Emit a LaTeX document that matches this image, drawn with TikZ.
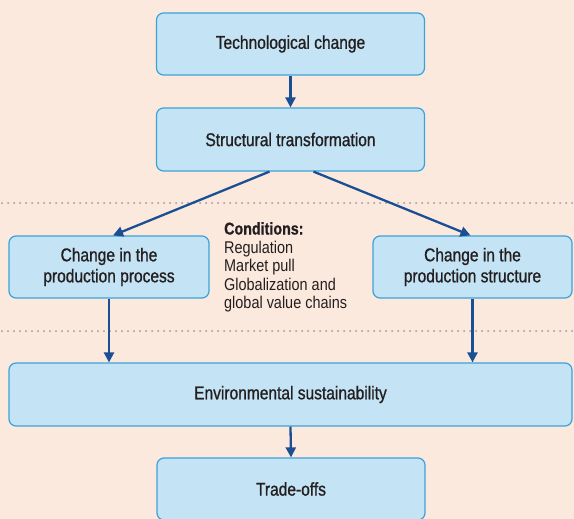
\documentclass[tikz,border=0pt]{standalone}
\usepackage{fontspec}
\setmainfont{Liberation Sans}[FakeStretch=0.85]
\newfontfamily\medfont{Liberation Sans}[FakeStretch=0.84, FakeBold=0.9]
\usetikzlibrary{arrows.meta,calc}
\definecolor{bgpeach}{HTML}{FCE9DD}
\definecolor{boxfill}{HTML}{C4E3F4}
\definecolor{boxline}{HTML}{3AA2DC}
\definecolor{arrowblue}{HTML}{1A4F93}
\definecolor{txt}{HTML}{231F20}
\definecolor{dotgray}{HTML}{9A9A9A}
\begin{document}
\begin{tikzpicture}[x=1pt,y=-1pt,
  box/.style={draw=boxline, fill=boxfill, line width=1.2pt, rounded corners=7pt,
    align=center, text=txt, font=\medfont\fontsize{18.5}{21}\selectfont, inner sep=0pt},
  arr/.style={draw=arrowblue, line width=2.3pt, -{Triangle[length=10pt,width=10pt]}},
  sep/.style={draw=dotgray, line width=2pt, line cap=round, dash pattern=on 0pt off 6pt}]
\useasboundingbox (0,0) rectangle (574,519);
\fill[bgpeach] (0,0) rectangle (574,519);
% separators
\coordinate (s1a) at (2,203); \coordinate (s1b) at (574,203);
\coordinate (s2a) at (2,331); \coordinate (s2b) at (574,331);
\draw[sep] (s1a) -- (s1b);
\draw[sep] (s2a) -- (s2b);
% boxes
\node[box, minimum width=268pt, minimum height=62pt] (tech) at (290.5,44) {Technological change};
\node[box, minimum width=268pt, minimum height=63pt] (struct) at (290.5,139.5) {Structural transformation};
\node[box, minimum width=200pt, minimum height=62pt] (left) at (109,267) {Change in the\\production process};
\node[box, minimum width=199pt, minimum height=62pt] (right) at (472.5,267) {Change in the\\production structure};
\node[box, minimum width=563pt, minimum height=63pt] (env) at (290.5,394.5) {Environmental sustainability};
\node[box, minimum width=268pt, minimum height=62pt] (trade) at (291,489) {Trade-offs};
% conditions
\node[anchor=north west, align=left, text=txt, inner sep=0pt,
  font=\fontsize{17}{18.5}\selectfont] (cond) at (224,222)
  {{\medfont\bfseries Conditions:}\\Regulation\\Market pull\\Globalization and\\global value chains};
% arrows
\draw[arr] (tech.south) -- (struct.north);
\draw[arr] ($(struct.south)+(-21,0)$) -- ($(left.north)+(4,0)$);
\draw[arr] ($(struct.south)+(23,0)$) -- ($(right.north)+(-2,0)$);
\draw[arr] (left.south) -- (left.south |- env.north);
\draw[arr] (right.south) -- (right.south |- env.north);
\draw[arr] (env.south) -- (trade.north);
\end{tikzpicture}
\end{document}
